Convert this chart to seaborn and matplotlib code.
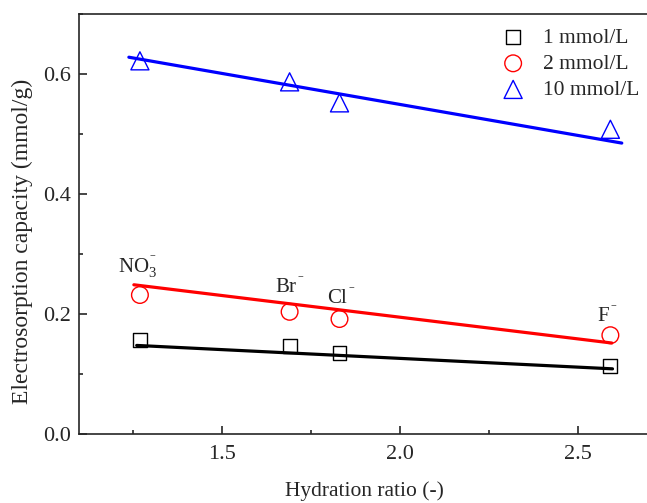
import matplotlib
matplotlib.use("Agg")
import matplotlib.pyplot as plt
import seaborn as sns
from matplotlib.ticker import MultipleLocator

sns.set_style("ticks")
plt.rcParams.update({
    "font.family": ["Liberation Serif", "DejaVu Serif"],
    "mathtext.fontset": "custom",
    "mathtext.rm": "Liberation Serif",
    "mathtext.it": "Liberation Serif:italic",
    "font.size": 15,
    "xtick.direction": "in",
    "ytick.direction": "in",
    "axes.linewidth": 1.2,
})

# hydration ratio of each anion
anions = [r"NO$_3^{^-}$", r"Br$^{^-}$", r"Cl$^{^-}$", r"F$^{^-}$"]
hydration_ratio = [1.27, 1.69, 1.83, 2.59]

# electrosorption capacity (mmol/g) per concentration
cap_1 = [0.157, 0.147, 0.135, 0.114]
cap_2 = [0.232, 0.204, 0.192, 0.165]
cap_10 = [0.622, 0.587, 0.552, 0.508]

# linear fit end points
fit_x_1 = [1.261, 2.596]
fit_y_1 = [0.148, 0.109]
fit_x_2 = [1.253, 2.594]
fit_y_2 = [0.249, 0.152]
fit_x_10 = [1.239, 2.622]
fit_y_10 = [0.628, 0.485]

series = [
    ("1 mmol/L", cap_1, fit_x_1, fit_y_1, "black", "s", 10),
    ("2 mmol/L", cap_2, fit_x_2, fit_y_2, "red", "o", 12),
    ("10 mmol/L", cap_10, fit_x_10, fit_y_10, "blue", "^", 13),
]

fig = plt.figure(figsize=(6.47, 5.03), dpi=100)
ax = fig.add_axes([0.1226, 0.1366, 0.8814, 0.8356])

for label, cap, fx, fy, color, marker, ms in series:
    sns.lineplot(x=fx, y=fy, color=color, lw=2.3, ax=ax, zorder=2)
    sns.scatterplot(x=hydration_ratio, y=cap, marker=marker, s=ms ** 2,
                    facecolor="none", edgecolor=color, linewidth=1.0,
                    label=label, ax=ax, zorder=3)

# anion labels above the 2 mmol/L points
label_offsets = [(-1.5, 15.8), (0, 13.5), (1.5, 10.8), (-2, 9.4)]
for name, x, y, off in zip(anions, hydration_ratio, cap_2, label_offsets):
    ax.annotate(name, (x, y), xytext=off, textcoords="offset points",
                ha="center", va="baseline", fontsize=15)

ax.set_xlim(1.1, 2.7)
ax.set_ylim(0, 0.7)
ax.xaxis.set_major_locator(MultipleLocator(0.5))
ax.xaxis.set_minor_locator(MultipleLocator(0.25))
ax.yaxis.set_major_locator(MultipleLocator(0.2))
ax.yaxis.set_minor_locator(MultipleLocator(0.1))
ax.tick_params(which="major", length=6, width=1.2, labelsize=16)
ax.tick_params(which="minor", length=3, width=1.2)
ax.tick_params(axis="x", pad=8)
ax.tick_params(axis="y", pad=6)

ax.set_xlabel("Hydration ratio (-)", fontsize=15.5, labelpad=12)
ax.set_ylabel("Electrosorption capacity (mmol/g)", fontsize=17)
ax.yaxis.set_label_coords(-0.082, 0.46)

ax.legend(loc="upper right", bbox_to_anchor=(1.009, 1.003), frameon=False,
          fontsize=15.5, handletextpad=0.4, labelspacing=0.28, borderaxespad=0.3)

fig.savefig("out.png", dpi=100)
